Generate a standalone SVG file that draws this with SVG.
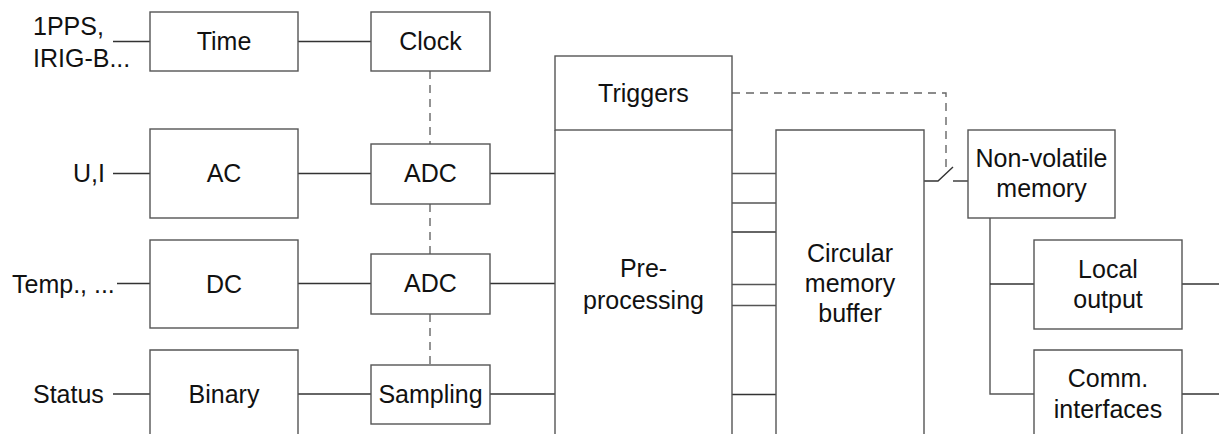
<svg xmlns="http://www.w3.org/2000/svg" width="1219" height="434" viewBox="0 0 1219 434">
  <style>
    .box { fill: #fff; stroke: #555; stroke-width: 1.4; }
    .edge { fill: none; stroke: #555; stroke-width: 1.4; }
    .wire { fill: none; stroke: #333; stroke-width: 1.4; }
    .dash { fill: none; stroke: #666; stroke-width: 1.4; stroke-dasharray: 8 6; }
    text { font-family: "Liberation Sans", Arial, sans-serif; font-size: 25px; fill: #111; }
    .c { text-anchor: middle; }
  </style>
  <rect width="1219" height="434" fill="#fff"/>

  <!-- signal inputs -->
  <g id="inputs">
    <text x="33" y="35">1PPS,</text>
    <text x="33" y="67">IRIG-B...</text>
    <text x="73" y="182">U,I</text>
    <text x="12" y="293">Temp., ...</text>
    <text x="33" y="403">Status</text>
  </g>

  <!-- wiring between blocks -->
  <g id="connectors">
    <line class="wire" x1="113" y1="41.5" x2="150" y2="41.5"/>
    <line class="wire" x1="298" y1="41.5" x2="371" y2="41.5"/>
    <line class="wire" x1="113" y1="173.5" x2="150" y2="173.5"/>
    <line class="wire" x1="298" y1="173.5" x2="371" y2="173.5"/>
    <line class="wire" x1="490" y1="173.5" x2="555" y2="173.5"/>
    <line class="wire" x1="117" y1="283.5" x2="150" y2="283.5"/>
    <line class="wire" x1="298" y1="283.5" x2="371" y2="283.5"/>
    <line class="wire" x1="490" y1="283.5" x2="555" y2="283.5"/>
    <line class="wire" x1="113" y1="394" x2="150" y2="394"/>
    <line class="wire" x1="298" y1="394" x2="371" y2="394"/>
    <line class="wire" x1="490" y1="394" x2="555" y2="394"/>
    <!-- clock distribution -->
    <line class="dash" x1="430" y1="71" x2="430" y2="144"/>
    <line class="dash" x1="430" y1="204" x2="430" y2="254"/>
    <line class="dash" x1="430" y1="314" x2="430" y2="365"/>
    <!-- pre-processing to buffer channels -->
    <line class="edge" x1="732" y1="173.5" x2="776" y2="173.5"/>
    <line class="edge" x1="732" y1="203" x2="776" y2="203"/>
    <line class="wire" x1="732" y1="232" x2="776" y2="232"/>
    <line class="edge" x1="732" y1="284.5" x2="776" y2="284.5"/>
    <line class="edge" x1="732" y1="305.5" x2="776" y2="305.5"/>
    <line class="wire" x1="732" y1="394.5" x2="776" y2="394.5"/>
    <!-- trigger-controlled switch -->
    <polyline class="dash" points="732,93 946,93 946,168"/>
    <polyline class="wire" points="924,181 938,181 953,167"/>
    <line class="wire" x1="953" y1="181" x2="968" y2="181"/>
    <!-- outputs -->
    <polyline class="edge" points="990,218 990,394 1034,394"/>
    <line class="wire" x1="990" y1="284" x2="1034" y2="284"/>
    <line class="wire" x1="1182" y1="284" x2="1219" y2="284"/>
    <line class="wire" x1="1182" y1="394" x2="1219" y2="394"/>
  </g>

  <g id="time">
    <rect class="box" x="150" y="12" width="148" height="59"/>
    <text class="c" x="224" y="50">Time</text>
  </g>
  <g id="clock">
    <rect class="box" x="371" y="12" width="119" height="59"/>
    <text class="c" x="430.5" y="50">Clock</text>
  </g>
  <g id="ac">
    <rect class="box" x="150" y="129" width="148" height="89"/>
    <text class="c" x="224" y="182">AC</text>
  </g>
  <g id="adc1">
    <rect class="box" x="371" y="144" width="119" height="60"/>
    <text class="c" x="430.5" y="182">ADC</text>
  </g>
  <g id="dc">
    <rect class="box" x="150" y="240" width="148" height="88"/>
    <text class="c" x="224" y="293">DC</text>
  </g>
  <g id="adc2">
    <rect class="box" x="371" y="254" width="119" height="60"/>
    <text class="c" x="430.5" y="292">ADC</text>
  </g>
  <g id="binary">
    <path class="edge" d="M150,440 V350 H298 V440"/>
    <text class="c" x="224" y="403">Binary</text>
  </g>
  <g id="sampling">
    <rect class="box" x="371" y="365" width="119" height="59"/>
    <text class="c" x="430.5" y="403">Sampling</text>
  </g>
  <g id="triggers">
    <rect class="box" x="555" y="56" width="177" height="74"/>
    <text class="c" x="643.5" y="102">Triggers</text>
  </g>
  <g id="preprocessing">
    <path class="edge" d="M555,130 V440 M732,130 V440"/>
    <text class="c" x="643.5" y="277">Pre-</text>
    <text class="c" x="643.5" y="309">processing</text>
  </g>
  <g id="buffer">
    <path class="edge" d="M776,440 V130 H924 V440"/>
    <text class="c" x="850" y="262">Circular</text>
    <text class="c" x="850" y="292">memory</text>
    <text class="c" x="850" y="322">buffer</text>
  </g>
  <g id="nonvolatile">
    <rect class="box" x="968" y="130" width="147" height="88"/>
    <text class="c" x="1041.5" y="167">Non-volatile</text>
    <text class="c" x="1041.5" y="197">memory</text>
  </g>
  <g id="localoutput">
    <rect class="box" x="1034" y="240" width="148" height="89"/>
    <text class="c" x="1108" y="278">Local</text>
    <text class="c" x="1108" y="308">output</text>
  </g>
  <g id="comm">
    <path class="edge" d="M1034,440 V350 H1182 V440"/>
    <text class="c" x="1108" y="387">Comm.</text>
    <text class="c" x="1108" y="418">interfaces</text>
  </g>
</svg>
